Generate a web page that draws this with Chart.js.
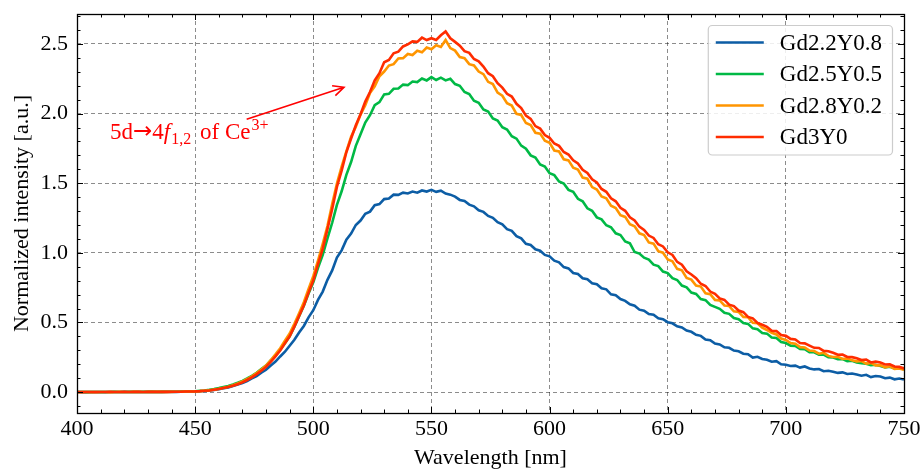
<!DOCTYPE html>
<html><head><meta charset="utf-8">
<script src="https://cdn.jsdelivr.net/npm/chart.js@4/dist/chart.umd.min.js"></script>
<style>html,body{margin:0;padding:0;background:#fff;}#wrap{width:921px;height:469px;}</style>
</head><body>
<div id="wrap"><canvas id="c" width="921" height="469"></canvas></div>
<script>
const wavelengths = [400,402,404,406,408,410,412,414,416,418,420,422,424,426,428,430,432,434,436,438,440,442,444,446,448,
450,452,454,456,458,460,462,464,466,468,470,472,474,476,478,480,482,484,486,488,490,492,494,496,498,
500,502,504,506,508,510,512,514,516,518,520,522,524,526,528,530,532,534,536,538,540,542,544,546,548,
550,552,554,556,558,560,562,564,566,568,570,572,574,576,578,580,582,584,586,588,590,592,594,596,598,
600,602,604,606,608,610,612,614,616,618,620,622,624,626,628,630,632,634,636,638,640,642,644,646,648,
650,652,654,656,658,660,662,664,666,668,670,672,674,676,678,680,682,684,686,688,690,692,694,696,698,
700,702,704,706,708,710,712,714,716,718,720,722,724,726,728,730,732,734,736,738,740,742,744,746,748,750];

const seriesLabels = ['Gd2.2Y0.8','Gd2.5Y0.5','Gd2.8Y0.2','Gd3Y0'];
const seriesColors = ['#0C5DA5','#00B945','#FF9500','#FF2C00'];

const gd22y08 = [0.001,0.000,0.001,0.000,0.001,0.001,0.000,0.001,0.001,0.001,0.002,0.001,0.001,0.002,0.001,0.002,0.002,0.001,0.002,0.002,0.003,0.002,0.003,0.003,0.003,
0.004,0.006,0.008,0.011,0.015,0.020,0.027,0.034,0.043,0.054,0.066,0.080,0.098,0.115,0.139,0.160,0.191,0.219,0.256,0.290,0.333,0.376,0.428,0.475,0.537,
0.588,0.662,0.722,0.806,0.874,0.966,1.018,1.095,1.138,1.200,1.232,1.280,1.296,1.342,1.350,1.386,1.390,1.418,1.416,1.432,1.426,1.440,1.432,1.448,1.440,
1.452,1.438,1.446,1.426,1.418,1.404,1.380,1.372,1.346,1.334,1.306,1.294,1.265,1.252,1.220,1.204,1.170,1.158,1.120,1.104,1.065,1.056,1.026,1.015,0.985,
0.975,0.944,0.932,0.898,0.888,0.855,0.848,0.818,0.810,0.782,0.774,0.745,0.738,0.702,0.696,0.668,0.655,0.630,0.620,0.592,0.585,0.560,0.556,0.530,0.524,
0.502,0.494,0.472,0.464,0.442,0.433,0.412,0.404,0.378,0.372,0.348,0.342,0.322,0.318,0.298,0.293,0.276,0.272,0.248,0.254,0.238,0.232,0.218,0.222,0.200,
0.196,0.188,0.190,0.176,0.184,0.170,0.163,0.166,0.150,0.153,0.146,0.138,0.142,0.130,0.134,0.126,0.118,0.124,0.108,0.116,0.112,0.100,0.104,0.092,0.098,0.090];

const gd25y05 = [0.001,0.001,0.000,0.001,0.001,0.000,0.001,0.001,0.002,0.001,0.001,0.002,0.002,0.001,0.002,0.002,0.002,0.003,0.002,0.003,0.003,0.003,0.004,0.004,0.005,
0.006,0.009,0.012,0.016,0.022,0.029,0.037,0.044,0.055,0.067,0.081,0.098,0.117,0.138,0.165,0.190,0.227,0.262,0.305,0.351,0.401,0.470,0.545,0.620,0.708,
0.788,0.893,0.986,1.104,1.216,1.345,1.442,1.560,1.652,1.768,1.852,1.935,1.988,2.061,2.082,2.138,2.142,2.178,2.180,2.208,2.204,2.230,2.226,2.252,2.238,
2.262,2.241,2.258,2.238,2.250,2.212,2.200,2.155,2.140,2.092,2.078,2.030,2.015,1.965,1.950,1.902,1.886,1.838,1.820,1.770,1.748,1.700,1.684,1.635,1.620,
1.572,1.558,1.512,1.498,1.452,1.438,1.388,1.370,1.320,1.302,1.255,1.240,1.198,1.184,1.140,1.128,1.082,1.068,1.006,0.995,0.965,0.952,0.915,0.905,0.866,
0.855,0.818,0.805,0.765,0.752,0.715,0.705,0.668,0.660,0.626,0.612,0.598,0.570,0.562,0.532,0.524,0.496,0.490,0.458,0.452,0.425,0.420,0.392,0.388,0.360,
0.352,0.333,0.332,0.310,0.308,0.287,0.286,0.268,0.270,0.250,0.248,0.236,0.238,0.222,0.225,0.212,0.208,0.203,0.193,0.196,0.188,0.178,0.182,0.170,0.173,0.165];

const gd28y02 = [0.000,0.001,0.001,0.000,0.001,0.001,0.001,0.000,0.001,0.002,0.001,0.001,0.002,0.002,0.001,0.002,0.002,0.002,0.002,0.003,0.002,0.003,0.003,0.004,0.004,
0.005,0.007,0.010,0.013,0.018,0.024,0.031,0.039,0.049,0.062,0.076,0.094,0.113,0.137,0.163,0.191,0.229,0.271,0.315,0.369,0.421,0.491,0.566,0.645,0.740,
0.832,0.944,1.065,1.193,1.350,1.498,1.620,1.728,1.834,1.905,1.993,2.060,2.148,2.196,2.268,2.302,2.345,2.355,2.396,2.398,2.428,2.420,2.451,2.440,2.474,
2.462,2.490,2.478,2.528,2.470,2.452,2.406,2.398,2.355,2.346,2.302,2.283,2.228,2.212,2.150,2.128,2.075,2.058,1.998,1.990,1.932,1.918,1.862,1.856,1.805,
1.790,1.735,1.728,1.672,1.664,1.612,1.598,1.540,1.532,1.472,1.455,1.405,1.392,1.338,1.322,1.270,1.258,1.205,1.190,1.140,1.128,1.075,1.066,1.012,1.001,
0.952,0.940,0.885,0.875,0.820,0.808,0.765,0.758,0.710,0.703,0.662,0.658,0.622,0.618,0.580,0.576,0.540,0.538,0.498,0.494,0.462,0.446,0.426,0.414,0.385,
0.374,0.352,0.348,0.323,0.320,0.298,0.295,0.276,0.282,0.260,0.252,0.253,0.238,0.242,0.228,0.221,0.223,0.205,0.210,0.192,0.194,0.178,0.185,0.166,0.170,0.160];

const gd3y0 = [0.001,0.000,0.001,0.001,0.000,0.001,0.001,0.002,0.001,0.001,0.002,0.001,0.002,0.002,0.001,0.002,0.002,0.002,0.003,0.002,0.003,0.003,0.003,0.004,0.004,
0.005,0.007,0.010,0.012,0.017,0.022,0.029,0.036,0.045,0.057,0.070,0.087,0.106,0.128,0.154,0.181,0.217,0.257,0.299,0.351,0.401,0.470,0.546,0.622,0.714,
0.801,0.918,1.029,1.170,1.315,1.473,1.590,1.722,1.821,1.916,1.995,2.086,2.155,2.238,2.290,2.368,2.385,2.433,2.445,2.482,2.497,2.518,2.515,2.545,2.528,
2.541,2.528,2.562,2.590,2.541,2.515,2.488,2.448,2.436,2.392,2.375,2.338,2.290,2.268,2.218,2.186,2.142,2.122,2.070,2.040,1.985,1.962,1.910,1.892,1.846,
1.826,1.785,1.768,1.724,1.706,1.664,1.642,1.596,1.574,1.528,1.505,1.459,1.438,1.392,1.370,1.324,1.302,1.255,1.233,1.188,1.165,1.124,1.107,1.062,1.046,
1.004,0.985,0.935,0.915,0.868,0.845,0.818,0.778,0.762,0.722,0.706,0.673,0.662,0.628,0.618,0.586,0.574,0.540,0.530,0.497,0.484,0.469,0.441,0.438,0.410,
0.404,0.382,0.378,0.352,0.350,0.334,0.318,0.317,0.296,0.294,0.283,0.268,0.270,0.252,0.251,0.243,0.230,0.234,0.213,0.219,0.212,0.198,0.200,0.184,0.181,0.170];

const xTickValues = [400,450,500,550,600,650,700,750];
const yTickValues = [0.0,0.5,1.0,1.5,2.0,2.5];
const xRange = [400, 750];
const yRange = [-0.15, 2.715];

// annotation anchor points in data coordinates (wavelength, intensity)
const annotationText = {pre:'5d', arrow:'\u2192', num:'4', italic:'f', sub:'1,2', mid:' of Ce', sup:'3+'};
const annotationTextAt = [414, 1.815];
const arrowTail = [471.8, 1.959];
const arrowHead = [513.0, 2.189];

const FONT = '"Liberation Serif", "Times New Roman", serif';
const FS = 22;
const FS_TXT = 23;

const seriesValues = [gd22y08, gd25y05, gd28y02, gd3y0];
const datasets = seriesValues.map((vals, i) => ({
  label: seriesLabels[i],
  data: wavelengths.map((w, k) => ({x: w, y: vals[k]})),
  borderColor: seriesColors[i],
  backgroundColor: seriesColors[i],
  borderWidth: 2.6,
  pointRadius: 0,
  tension: 0,
  fill: false,
  order: 3 - i
}));

const zeroPad = s => { s.paddingLeft = 0; s.paddingRight = 0; s.paddingTop = 0; s.paddingBottom = 0; };

const framePlugin = {
  id: 'frame',
  afterDatasetsDraw(chart) {
    const {ctx, chartArea: a, scales: {x, y}} = chart;
    ctx.save();
    ctx.strokeStyle = '#000';
    ctx.lineWidth = 1;
    ctx.beginPath();
    const majLen = 6, minLen = 3.5;
    for (let v = xRange[0]; v <= xRange[1]; v += 10) {
      const px = Math.round(x.getPixelForValue(v)) + 0.5;
      const L = (v % 50 === 0) ? majLen : minLen;
      ctx.moveTo(px, a.bottom); ctx.lineTo(px, a.bottom - L);
      ctx.moveTo(px, a.top); ctx.lineTo(px, a.top + L);
    }
    for (let k = Math.ceil(yRange[0] * 10); k <= Math.floor(yRange[1] * 10); k++) {
      const py = Math.round(y.getPixelForValue(k / 10)) + 0.5;
      const L = (k % 5 === 0) ? majLen : minLen;
      ctx.moveTo(a.left, py); ctx.lineTo(a.left + L, py);
      ctx.moveTo(a.right, py); ctx.lineTo(a.right - L, py);
    }
    ctx.stroke();
    ctx.lineWidth = 1.3;
    ctx.strokeRect(Math.round(a.left) + 0.5, Math.round(a.top) + 0.5, Math.round(a.right - a.left), Math.round(a.bottom - a.top));
    ctx.restore();
  },
  afterDraw(chart) {
    const {ctx, chartArea: a, scales: {x, y}} = chart;
    ctx.save();
    // annotation arrow
    const tx = x.getPixelForValue(arrowTail[0]), ty = y.getPixelForValue(arrowTail[1]);
    const hx = x.getPixelForValue(arrowHead[0]), hy = y.getPixelForValue(arrowHead[1]);
    ctx.strokeStyle = '#FF0000';
    ctx.lineWidth = 1.6;
    ctx.beginPath();
    ctx.moveTo(tx, ty); ctx.lineTo(hx, hy);
    const ang = Math.atan2(hy - ty, hx - tx);
    const hl = 12, ha = 0.45;
    ctx.moveTo(hx - hl * Math.cos(ang - ha), hy - hl * Math.sin(ang - ha));
    ctx.lineTo(hx, hy);
    ctx.lineTo(hx - hl * Math.cos(ang + ha), hy - hl * Math.sin(ang + ha));
    ctx.stroke();
    // annotation text
    let px = x.getPixelForValue(annotationTextAt[0]);
    const base = y.getPixelForValue(annotationTextAt[1]);
    ctx.fillStyle = '#FF0000';
    ctx.textBaseline = 'alphabetic';
    ctx.textAlign = 'left';
    const part = (t, font, dy) => { ctx.font = font; ctx.fillText(t, px, base + dy); px += ctx.measureText(t).width; };
    part(annotationText.pre, `${FS_TXT}px ${FONT}`, 0);
    part(annotationText.arrow, `${FS_TXT}px "DejaVu Sans"`, -1);
    part(annotationText.num, `${FS_TXT}px ${FONT}`, 0);
    part(annotationText.italic, `italic ${FS_TXT}px ${FONT}`, 0);
    px += 1;
    part(annotationText.sub, `${Math.round(FS_TXT*0.7)}px ${FONT}`, 5);
    px += 3;
    part(annotationText.mid, `${FS_TXT}px ${FONT}`, 0);
    px += 1;
    part(annotationText.sup, `${Math.round(FS_TXT*0.7)}px ${FONT}`, -9);

    // legend
    ctx.font = `${FS_TXT}px ${FONT}`;
    const ds = chart.data.datasets;
    const textW = Math.max(...ds.map(d => ctx.measureText(d.label).width));
    const padL = 8, handle = 48, gap = 16, padR = 10, rowH = 31.5, padT = 17.5;
    const w = padL + handle + gap + textW + padR;
    const h = padT * 2 + rowH * (ds.length - 1);
    const bx = a.right - 12 - w, by = a.top + 11;
    ctx.beginPath();
    if (ctx.roundRect) ctx.roundRect(bx + 0.5, by + 0.5, w, h, 4); else ctx.rect(bx + 0.5, by + 0.5, w, h);
    ctx.fillStyle = 'rgba(255,255,255,0.85)';
    ctx.fill();
    ctx.strokeStyle = '#cccccc';
    ctx.lineWidth = 1.2;
    ctx.stroke();
    ds.forEach((d, i) => {
      const cy = by + padT + i * rowH;
      ctx.strokeStyle = d.borderColor;
      ctx.lineWidth = 2.6;
      ctx.beginPath();
      ctx.moveTo(bx + padL, cy); ctx.lineTo(bx + padL + handle, cy);
      ctx.stroke();
      ctx.fillStyle = '#000';
      ctx.textBaseline = 'middle';
      ctx.fillText(d.label, bx + padL + handle + gap, cy + 1);
    });
    ctx.restore();
  }
};

new Chart(document.getElementById('c'), {
  type: 'line',
  data: {datasets},
  options: {
    responsive: false,
    animation: false,
    devicePixelRatio: 1,
    layout: {padding: {left: 0, right: 17, top: 14, bottom: 0}},
    plugins: {legend: {display: false}, tooltip: {enabled: false}},
    scales: {
      x: {
        type: 'linear', min: xRange[0], max: xRange[1],
        afterBuildTicks: s => { s.ticks = xTickValues.map(v => ({value: v})); },
        afterFit: s => { s.height = 56; zeroPad(s); },
        grid: {drawTicks: false, color: 'rgba(0,0,0,0.45)', lineWidth: 1},
        border: {display: false, dash: [4, 3]},
        ticks: {padding: 3, color: '#000', font: {family: FONT, size: FS}, maxRotation: 0, callback: v => String(v)},
        title: {display: true, text: 'Wavelength [nm]', color: '#000', font: {family: FONT, size: FS, lineHeight: 1}, padding: {top: 0, bottom: 0}}
      },
      y: {
        type: 'linear', min: yRange[0], max: yRange[1],
        afterBuildTicks: s => { s.ticks = yTickValues.map(v => ({value: v})); },
        afterFit: s => { s.width = 77; zeroPad(s); },
        grid: {drawTicks: false, color: 'rgba(0,0,0,0.45)', lineWidth: 1},
        border: {display: false, dash: [4, 3]},
        ticks: {padding: 9, color: '#000', font: {family: FONT, size: FS}, callback: v => Number(v).toFixed(1)},
        title: {display: true, text: 'Normalized intensity [a.u.]', color: '#000', font: {family: FONT, size: FS, lineHeight: 1}, padding: {top: 11, bottom: 0}}
      }
    }
  },
  plugins: [framePlugin]
});
</script>
</body></html>
